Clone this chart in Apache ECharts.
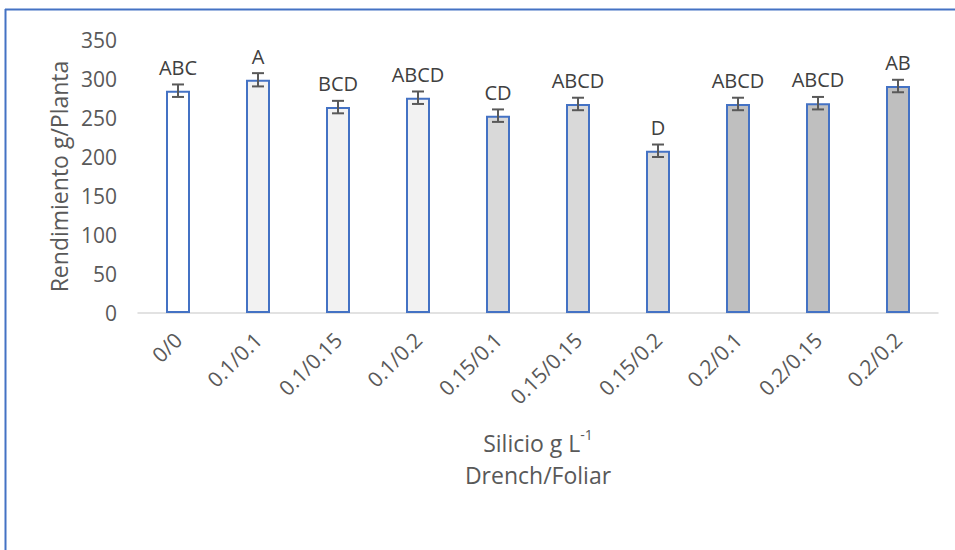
<!DOCTYPE html>
<html>
<head>
<meta charset="utf-8">
<script src="https://cdn.jsdelivr.net/npm/echarts@6/dist/echarts.min.js"></script>
<style>
  html, body { margin: 0; padding: 0; background: #ffffff; }
  #chart { width: 955px; height: 550px; }
</style>
</head>
<body>
<div id="chart"></div>
<script>
// Treatments: drench / foliar silicon dose (g L-1)
const categories = ['0/0', '0.1/0.1', '0.1/0.15', '0.1/0.2', '0.15/0.1', '0.15/0.15', '0.15/0.2', '0.2/0.1', '0.2/0.15', '0.2/0.2'];
// Mean yield per plant (g)
const yieldValues = [285, 299, 264, 276, 253, 268, 208, 268, 269, 291];
// Standard error of each mean
const errorValues = [8, 8.5, 8, 8, 8, 8, 8, 8, 8, 8];
// Mean separation letters
const letters = ['ABC', 'A', 'BCD', 'ABCD', 'CD', 'ABCD', 'D', 'ABCD', 'ABCD', 'AB'];
// Fill per drench dose group
const fills = ['#ffffff', '#f2f2f2', '#f2f2f2', '#f2f2f2', '#d9d9d9', '#d9d9d9', '#d9d9d9', '#bfbfbf', '#bfbfbf', '#bfbfbf'];
const yTicks = { min: 0, max: 350, interval: 50 };

const FONT = '"Open Sans", sans-serif';
const TEXT = '#595959';

const chart = echarts.init(document.getElementById('chart'), null, { renderer: 'svg' });

const barData = yieldValues.map((v, i) => ({
  value: v,
  itemStyle: { color: fills[i] }
}));

const errData = yieldValues.map((v, i) => [i, v - errorValues[i], v + errorValues[i], letters[i]]);

chart.setOption({
  backgroundColor: '#ffffff',
  animation: false,
  grid: { left: 138, right: 17, top: 40, bottom: 237 },
  xAxis: {
    type: 'category',
    data: categories,
    axisLine: { lineStyle: { color: '#d9d9d9', width: 1.5 } },
    axisTick: { show: false },
    axisLabel: { color: TEXT, fontFamily: FONT, fontSize: 21, rotate: 45, margin: 23, interval: 0 },
    name: '{t|Silicio g L}{sup|-1}\n{t|Drench/Foliar}',
    nameLocation: 'middle',
    nameGap: 114,
    nameTextStyle: {
      color: TEXT,
      fontFamily: FONT,
      fontSize: 23,
      lineHeight: 32,
      rich: {
        t: { color: TEXT, fontFamily: FONT, fontSize: 23, lineHeight: 32 },
        sup: { color: TEXT, fontFamily: FONT, fontSize: 14, lineHeight: 32, padding: [0, 0, 12, 0], verticalAlign: 'top' }
      }
    }
  },
  yAxis: {
    type: 'value',
    min: yTicks.min,
    max: yTicks.max,
    interval: yTicks.interval,
    axisLine: { show: false },
    axisTick: { show: false },
    splitLine: { show: false },
    axisLabel: { color: TEXT, fontFamily: FONT, fontSize: 21, margin: 21 },
    name: 'Rendimiento g/Planta',
    nameLocation: 'middle',
    nameGap: 68,
    nameTextStyle: { color: TEXT, fontFamily: FONT, fontSize: 23 }
  },
  series: [
    {
      type: 'bar',
      data: barData,
      barWidth: 24,
      itemStyle: { borderColor: '#4472c4', borderWidth: 2 }
    },
    {
      type: 'custom',
      data: errData,
      z: 10,
      renderItem: function (params, api) {
        const x = api.value(0);
        const lo = api.coord([x, api.value(1)]);
        const hi = api.coord([x, api.value(2)]);
        const half = 6;
        const style = { stroke: '#595959', lineWidth: 2 };
        return {
          type: 'group',
          children: [
            { type: 'line', shape: { x1: lo[0], y1: lo[1], x2: hi[0], y2: hi[1] }, style: style },
            { type: 'line', shape: { x1: lo[0] - half, y1: lo[1], x2: lo[0] + half, y2: lo[1] }, style: style },
            { type: 'line', shape: { x1: hi[0] - half, y1: hi[1], x2: hi[0] + half, y2: hi[1] }, style: style },
            {
              type: 'text',
              style: {
                x: hi[0], y: hi[1] - 7,
                text: letters[params.dataIndex],
                fill: '#404040',
                font: '20px "Open Sans", sans-serif',
                textAlign: 'center',
                textVerticalAlign: 'bottom',
                verticalAlign: 'bottom'
              }
            }
          ]
        };
      }
    }
  ],
  graphic: [
    // chart-area frame (top and left edges visible)
    { type: 'line', shape: { x1: 5, y1: 9.5, x2: 955, y2: 9.5 }, style: { stroke: '#4472c4', lineWidth: 2 } },
    { type: 'line', shape: { x1: 5.5, y1: 9, x2: 5.5, y2: 550 }, style: { stroke: '#4472c4', lineWidth: 2 } }
  ]
});
</script>
</body>
</html>
